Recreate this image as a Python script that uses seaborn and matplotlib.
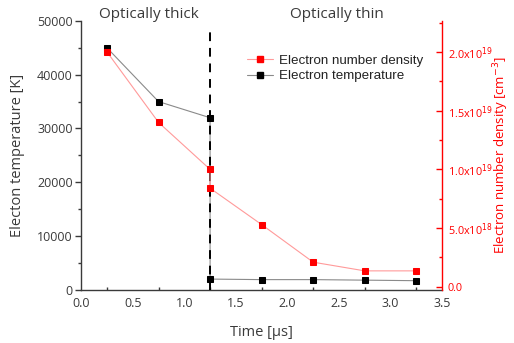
#!/usr/bin/env python3
# Electron temperature and number density vs time (twin y axes)

import matplotlib
matplotlib.use("Agg")
import matplotlib.pyplot as plt
from matplotlib.lines import Line2D
from matplotlib.ticker import MultipleLocator, FuncFormatter
import seaborn as sns

# ============================================================================
# DATA
# ============================================================================
time_us = [0.25, 0.75, 1.25, 1.25, 1.75, 2.25, 2.75, 3.25]
temperature_K = [45000, 35000, 32000, 2000, 1900, 1900, 1800, 1700]
density_cm3 = [2.0e19, 1.4e19, 1.0e19, 0.84e19, 0.53e19, 0.21e19, 0.136e19, 0.136e19]
boundary_time = 1.25
region_labels = ["Optically thick", "Optically thin"]

# ============================================================================
# THEME SETTINGS
# ============================================================================
sns.set_theme(style="white")
plt.rcParams['font.family'] = ['Open Sans', 'DejaVu Sans']
plt.rcParams['mathtext.fontset'] = 'dejavusans'
text_color = '#3a3a3a'
red = '#ff0000'
light_red = '#ff9a9a'
gray_line = '#8a8a8a'

fig, ax = plt.subplots(figsize=(5.14, 3.43), dpi=100)
fig.subplots_adjust(left=0.158, right=0.86, bottom=0.155, top=0.939)
ax2 = ax.twinx()

# ============================================================================
# CREATE PLOT
# ============================================================================
sns.lineplot(x=time_us, y=temperature_K, sort=False, estimator=None,
             color=gray_line, lw=0.8, marker='s', markersize=5,
             markerfacecolor='black', markeredgecolor='black', ax=ax)
sns.lineplot(x=time_us, y=density_cm3, sort=False, estimator=None,
             color=light_red, lw=0.8, marker='s', markersize=5,
             markerfacecolor=red, markeredgecolor=red, ax=ax2)

ax.vlines(boundary_time, 0, 48000, colors='black', linestyles=(0, (4.5, 3.5)),
          lw=1.4, zorder=5)

# Axis limits / ticks
ax.set_xlim(0, 3.5)
ax.set_ylim(0, 50000)
ax2.set_ylim(-0.0255e19, 2.264e19)
ax.xaxis.set_major_locator(MultipleLocator(0.5))
ax.xaxis.set_minor_locator(MultipleLocator(0.25))
ax.yaxis.set_major_locator(MultipleLocator(10000))
ax.yaxis.set_minor_locator(MultipleLocator(5000))
ax2.yaxis.set_major_locator(MultipleLocator(0.5e19))
ax2.yaxis.set_minor_locator(MultipleLocator(0.25e19))


def sci_fmt(v, pos):
    if abs(v) < 1e10:
        return "0.0"
    e = len(str(int(round(v)))) - 1
    m = v / 10 ** e
    return f"{m:.1f}x10$^{{{e}}}$"


ax2.yaxis.set_major_formatter(FuncFormatter(sci_fmt))

ax.tick_params(axis='x', which='major', direction='in', length=4, width=1,
               colors=text_color, labelsize=9, pad=5)
ax.tick_params(axis='x', which='minor', direction='in', length=2.5, width=1,
               colors=text_color, bottom=True)
ax.tick_params(axis='y', which='major', direction='out', length=4, width=1,
               colors=text_color, labelsize=9, pad=2)
ax.tick_params(axis='y', which='minor', direction='out', length=2.5, width=1,
               colors=text_color, left=True)
ax2.tick_params(axis='y', which='major', direction='in', length=4, width=1,
                colors=red, labelsize=7.8, pad=4, right=True)
ax2.tick_params(axis='y', which='minor', direction='in', length=2.5, width=1,
                colors=red, right=True)

for a in (ax, ax2):
    a.spines['top'].set_visible(False)
ax.spines['right'].set_visible(False)
ax2.spines['left'].set_visible(False)
ax2.spines['bottom'].set_visible(False)
ax.spines['left'].set_color(text_color)
ax.spines['bottom'].set_color(text_color)
ax2.spines['right'].set_color(red)
for s in ('left', 'bottom'):
    ax.spines[s].set_linewidth(1.0)
ax2.spines['right'].set_linewidth(1.0)

ax.set_xlabel("Time [µs]", fontsize=10.5, color=text_color, labelpad=11)
ax.set_ylabel("Electon temperature [K]", fontsize=10.5, color=text_color, labelpad=9)
ax2.set_ylabel("Electron number density [cm$^{-3}$]", fontsize=9.5, color=red)
ax2.yaxis.set_label_coords(1.137, 0.5)

# Region labels above the axes
ax.text(0.66, 0.995, region_labels[0], transform=ax.get_xaxis_transform(),
        ha='center', va='bottom', fontsize=11, color=text_color)
ax.text(2.48, 0.995, region_labels[1], transform=ax.get_xaxis_transform(),
        ha='center', va='bottom', fontsize=11, color=text_color)

# Legend
handles = [
    Line2D([], [], color=light_red, lw=0.8, marker='s', markersize=4.5,
           markerfacecolor=red, markeredgecolor=red),
    Line2D([], [], color=gray_line, lw=0.8, marker='s', markersize=4.5,
           markerfacecolor='black', markeredgecolor='black'),
]
leg = ax2.legend(handles, ["Electron number density", "Electron temperature"],
                 loc='upper left', bbox_to_anchor=(0.425, 0.92), frameon=False,
                 handlelength=2.0, handletextpad=0.4, labelspacing=0.25,
                 prop={'family': 'Liberation Sans', 'size': 9.6})
for t in leg.get_texts():
    t.set_color('#222222')
if ax.get_legend() is not None:
    ax.get_legend().remove()

# ============================================================================
# SAVE OUTPUT
# ============================================================================
plt.savefig("out.png", dpi=100)
plt.close()
